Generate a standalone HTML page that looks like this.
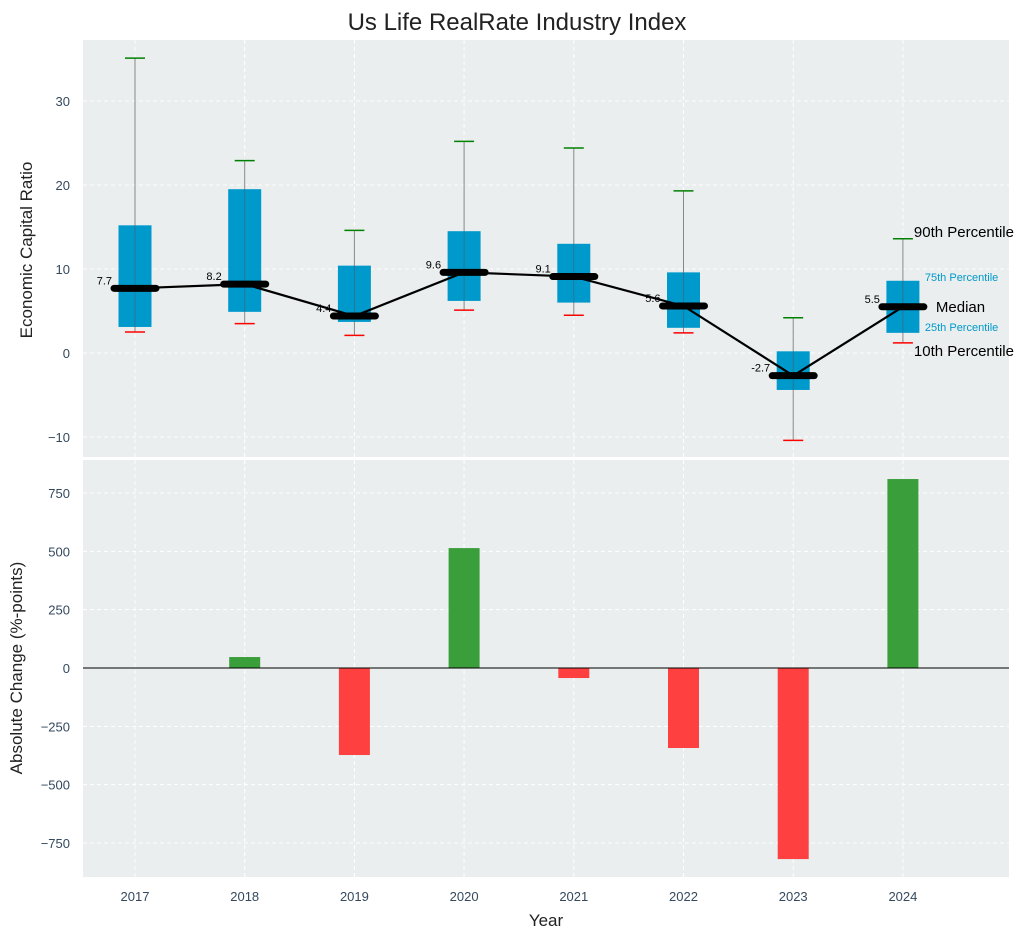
<!DOCTYPE html>
<html><head><meta charset="utf-8"><style>
body{margin:0;background:#fff;}
svg{display:block;font-family:"Liberation Sans",sans-serif;}
</style></head><body>
<svg id="chart" width="1034" height="940" viewBox="0 0 1034 940" xmlns="http://www.w3.org/2000/svg"></svg>
<script>
const years = ["2017","2018","2019","2020","2021","2022","2023","2024"];
const p10 = [2.5,3.5,2.1,5.1,4.5,2.4,-10.4,1.2];
const p25 = [3.1,4.9,3.7,6.2,6.0,3.0,-4.4,2.4];
const median = [7.7,8.2,4.4,9.6,9.1,5.6,-2.7,5.5];
const p75 = [15.2,19.5,10.4,14.5,13.0,9.6,0.2,8.6];
const p90 = [35.1,22.9,14.6,25.2,24.4,19.3,4.2,13.6];
const changes = [0,47,-373,514,-43,-343,-819,810];
const topTicks = [-10,0,10,20,30];
const botTicks = [-750,-500,-250,0,250,500,750];

const NS="http://www.w3.org/2000/svg";
const svg=document.getElementById('chart');
function el(tag,attrs,parent){const e=document.createElementNS(NS,tag);for(const k in attrs)e.setAttribute(k,attrs[k]);(parent||svg).appendChild(e);return e;}
const L=83,R=1009,T1=40,B1=457,T2=460,B2=877;
const TC='#34495e';
const x=i=>135+109.7*i;
const yT=v=>353-8.4*v;
const yB=v=>668-0.2333*v;

let t=el('text',{x:517,y:30,'text-anchor':'middle','font-size':24,fill:'#222'});t.textContent='Us Life RealRate Industry Index';


let p1=el('rect',{x:L,y:T1,width:R-L,height:B1-T1,fill:'#eaeeee'});

let p2=el('rect',{x:L,y:T2,width:R-L,height:B2-T2,fill:'#eaeeee'});


years.forEach((yr,i)=>{
  el('line',{x1:x(i),x2:x(i),y1:T1,y2:B1,stroke:'#fff','stroke-dasharray':'4,3','stroke-width':1});
  el('line',{x1:x(i),x2:x(i),y1:T2,y2:B2,stroke:'#fff','stroke-dasharray':'4,3','stroke-width':1});
  let tl=el('text',{x:x(i),y:901,'text-anchor':'middle','font-size':13,fill:TC});tl.textContent=yr;
  
});
topTicks.forEach(v=>{
  el('line',{x1:L,x2:R,y1:yT(v),y2:yT(v),stroke:'#fff','stroke-dasharray':'4,3','stroke-width':1});
  let tl=el('text',{x:70,y:yT(v)+5,'text-anchor':'end','font-size':13,fill:TC});tl.textContent=v<0?'−'+Math.abs(v):v;
  
});
botTicks.forEach(v=>{
  el('line',{x1:L,x2:R,y1:yB(v),y2:yB(v),stroke:'#fff','stroke-dasharray':'4,3','stroke-width':1});
  let tl=el('text',{x:70,y:yB(v)+5,'text-anchor':'end','font-size':13,fill:TC});tl.textContent=v<0?'−'+Math.abs(v):v;
  
});

years.forEach((yr,i)=>{
  const cx=x(i);
  let w=el('line',{x1:cx,x2:cx,y1:yT(p90[i]),y2:yT(p10[i]),stroke:'#888','stroke-width':1});
  
  let b=el('rect',{x:cx-16.5,y:yT(p75[i]),width:33,height:yT(p25[i])-yT(p75[i]),fill:'#0099cc'});
  
  el('line',{x1:cx,x2:cx,y1:yT(p75[i]),y2:yT(p25[i]),stroke:'#555','stroke-width':0.8,opacity:0.6});
  let c1=el('line',{x1:cx-10,x2:cx+10,y1:yT(p90[i]),y2:yT(p90[i]),stroke:'green','stroke-width':1.5});
  
  let c2=el('line',{x1:cx-10,x2:cx+10,y1:yT(p10[i]),y2:yT(p10[i]),stroke:'red','stroke-width':1.5});
  
});
let pts=median.map((m,i)=>x(i)+','+yT(m)).join(' ');
let ml=el('polyline',{points:pts,fill:'none',stroke:'#000','stroke-width':2.2});

years.forEach((yr,i)=>{
  const cx=x(i);
  let m=el('line',{x1:cx-21,x2:cx+21,y1:yT(median[i]),y2:yT(median[i]),stroke:'#000','stroke-width':7,'stroke-linecap':'round'});
  
  let lb=el('text',{x:cx-23,y:yT(median[i])-4,'text-anchor':'end','font-size':11,fill:'#000'});lb.textContent=median[i].toFixed(1);
  
});
const li=years.length-1, lx=x(li);
[[p90[li],'90th Percentile',11,'#000',15,-2],[p75[li],'75th Percentile',22,'#0099cc',11,0],[median[li],'Median',33,'#000',15,5],[p25[li],'25th Percentile',22,'#0099cc',11,-2],[p10[li],'10th Percentile',11,'#000',15,13]].forEach(a=>{
  let tx=el('text',{x:lx+a[2],y:yT(a[0])+a[5],'font-size':a[4],fill:a[3]});tx.textContent=a[1];
  
});

years.forEach((yr,i)=>{
  const v=changes[i];
  if(v===0)return;
  let r=el('rect',{x:x(i)-15.5,y:Math.min(yB(v),yB(0)),width:31,height:Math.abs(yB(v)-yB(0)),fill:v>0?'#3a9e3a':'#ff4040'});
  
});
let zl=el('line',{x1:L,x2:R,y1:yB(0),y2:yB(0),stroke:'#000','stroke-width':1});


let a1=el('text',{x:32,y:250,'text-anchor':'middle','font-size':17,fill:'#222',transform:'rotate(-90 32 250)'});a1.textContent='Economic Capital Ratio';

let a2=el('text',{x:22,y:668,'text-anchor':'middle','font-size':17,fill:'#222',transform:'rotate(-90 22 668)'});a2.textContent='Absolute Change (%-points)';

let a3=el('text',{x:546,y:926,'text-anchor':'middle','font-size':17,fill:'#222'});a3.textContent='Year';

</script>
</body></html>
